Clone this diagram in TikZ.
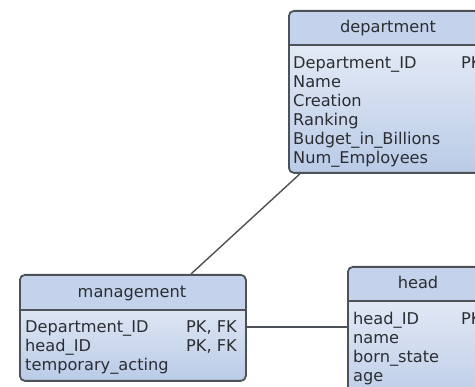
\documentclass[tikz,border=0pt]{standalone}
\usepackage{fontspec}
\setmainfont{DejaVu Sans}
\usetikzlibrary{calc}
\definecolor{edge}{HTML}{4C5258}
\definecolor{headfill}{HTML}{C4D3EB}
\definecolor{bodytop}{HTML}{EEF2F9}
\definecolor{bodybottom}{HTML}{BACBE7}
\definecolor{ink}{HTML}{2A2E33}
\tikzset{
  tablebox/.style={draw=edge, line width=1.8pt, rounded corners=5pt, anchor=north west,
    inner sep=0pt, top color=bodytop, bottom color=bodybottom,
    path picture={
      \fill[headfill] (path picture bounding box.north west) rectangle
        ([yshift=-#1]path picture bounding box.north east);
      \draw[edge, line width=1.8pt] ([yshift=-#1]path picture bounding box.north west) --
        ([yshift=-#1]path picture bounding box.north east);
    }},
  title/.style={font=\fontsize{16.2}{19}\selectfont, text=ink, inner sep=0pt, anchor=base},
  field/.style={font=\fontsize{16.2}{19}\selectfont, text=ink, inner sep=0pt, anchor=base west},
  link/.style={draw=edge, line width=1.4pt}
}
\begin{document}
\begin{tikzpicture}[x=1pt, y=-1pt]
\useasboundingbox (0,0) rectangle (475,387);
\fill[white] (0,0) rectangle (475,387);
\begin{scope}
\clip (0,0) rectangle (475,387);
% tables
\node[tablebox=34pt, minimum width=200pt, minimum height=162pt] (dept) at (288,10) {};
\node[tablebox=35pt, minimum width=226pt, minimum height=106pt] (mgmt) at (19,274) {};
\node[tablebox=34pt, minimum width=142pt, minimum height=140pt] (head) at (347,266) {};

% connectors
\draw[link] ($(dept.south west)+(12,0)$) -- ($(mgmt.north west)+(172,0)$);
\draw[link] ($(mgmt.east)+(0,-1)$) coordinate (m1) -- (m1 -| head.west);

% department (baselines)
\node[title] (dept-t) at (388,33) {department};
\node[field] (dept-1) at (293,69) {Department\_ID};
\node[field] (dept-1k) at (461,69) {PK};
\node[field] (dept-2) at (293,88) {Name};
\node[field] (dept-3) at (293,107) {Creation};
\node[field] (dept-4) at (293,126) {Ranking};
\node[field] (dept-5) at (293,145) {Budget\_in\_Billions};
\node[field] (dept-6) at (293,164) {Num\_Employees};

% management
\node[title] (mgmt-t) at (132,298) {management};
\node[field] (mgmt-1) at (25,333) {Department\_ID};
\node[field] (mgmt-1k) at (186,333) {PK, FK};
\node[field] (mgmt-2) at (25,352) {head\_ID};
\node[field] (mgmt-2k) at (186,352) {PK, FK};
\node[field] (mgmt-3) at (25,371) {temporary\_acting};

% head
\node[title] (head-t) at (418,289) {head};
\node[field] (head-1) at (353,325) {head\_ID};
\node[field] (head-1k) at (461,325) {PK};
\node[field] (head-2) at (353,344) {name};
\node[field] (head-3) at (353,363) {born\_state};
\node[field] (head-4) at (353,382) {age};
\end{scope}
\end{tikzpicture}
\end{document}
